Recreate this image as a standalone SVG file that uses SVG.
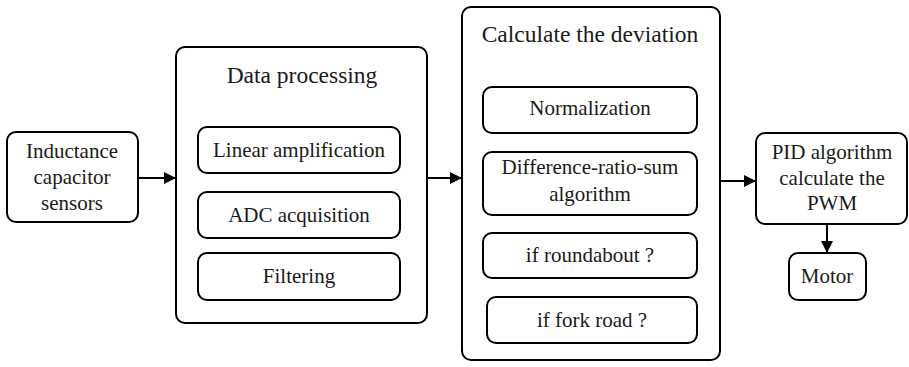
<svg xmlns="http://www.w3.org/2000/svg" width="909" height="367" viewBox="0 0 909 367">
  <defs>
    <marker id="arrow" viewBox="0 0 12 12" refX="12" refY="6" markerWidth="12" markerHeight="12" markerUnits="userSpaceOnUse" orient="auto">
      <path d="M0,0 L12,6 L0,12 Z" fill="#000"/>
    </marker>
  </defs>
  <style>
    rect { fill: #fff; stroke: #000; stroke-width: 2; }
    text { fill: #1a1a1a; text-anchor: middle; font-family: 'Liberation Serif', 'Times New Roman', serif; font-size: 21px; }
    .title { font-size: 23.5px; }
    .conn { stroke: #000; stroke-width: 2; fill: none; marker-end: url(#arrow); }
  </style>
  <rect x="0" y="0" width="909" height="367" style="stroke:none;fill:#fff"/>

  <g id="sensors">
    <rect x="7" y="132" width="131" height="90" rx="9"/>
    <text x="72" y="158">Inductance</text>
    <text x="72" y="184">capacitor</text>
    <text x="72" y="210">sensors</text>
  </g>

  <g id="data-processing">
    <rect x="176" y="47" width="251" height="276" rx="9"/>
    <text class="title" x="302" y="83">Data processing</text>
    <g id="linear-amplification">
      <rect x="198" y="127" width="202" height="46" rx="9"/>
      <text x="299" y="157">Linear amplification</text>
    </g>
    <g id="adc-acquisition">
      <rect x="198" y="192" width="202" height="46" rx="9"/>
      <text x="299" y="222">ADC acquisition</text>
    </g>
    <g id="filtering">
      <rect x="198" y="253" width="202" height="47" rx="9"/>
      <text x="299" y="283">Filtering</text>
    </g>
  </g>

  <g id="deviation">
    <rect x="462" y="7" width="258" height="353" rx="9"/>
    <text class="title" x="590" y="42">Calculate the deviation</text>
    <g id="normalization">
      <rect x="483" y="87" width="214" height="46" rx="9"/>
      <text x="590" y="115">Normalization</text>
    </g>
    <g id="difference-ratio-sum">
      <rect x="483" y="152" width="214" height="63" rx="9"/>
      <text x="590" y="174">Difference-ratio-sum</text>
      <text x="590" y="201">algorithm</text>
    </g>
    <g id="roundabout">
      <rect x="483" y="233" width="214" height="45" rx="9"/>
      <text x="590" y="262">if roundabout ?</text>
    </g>
    <g id="fork-road">
      <rect x="487" y="297" width="210" height="46" rx="9"/>
      <text x="592" y="327">if fork road ?</text>
    </g>
  </g>

  <g id="pid">
    <rect x="756" y="133" width="151" height="91" rx="9"/>
    <text x="832" y="159">PID algorithm</text>
    <text x="832" y="185">calculate the</text>
    <text x="832" y="210">PWM</text>
  </g>

  <g id="motor">
    <rect x="789" y="253" width="77" height="47" rx="9"/>
    <text x="827" y="283">Motor</text>
  </g>

  <g id="connectors">
    <line class="conn" x1="138" y1="178" x2="176" y2="178"/>
    <line class="conn" x1="427" y1="178" x2="462" y2="178"/>
    <line class="conn" x1="720" y1="181" x2="756" y2="181"/>
    <line class="conn" x1="827" y1="224" x2="827" y2="253"/>
  </g>
</svg>
